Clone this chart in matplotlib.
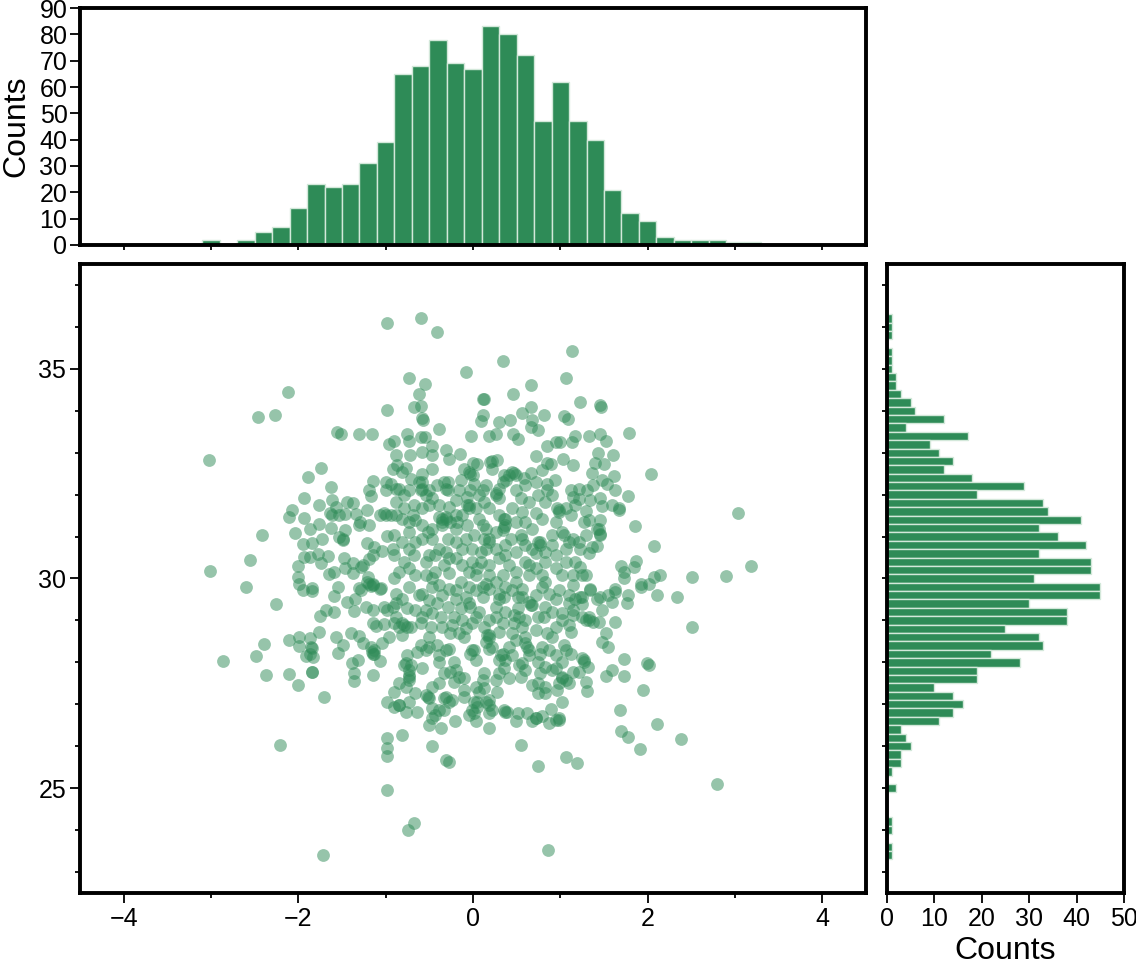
import matplotlib
matplotlib.use("Agg")
import matplotlib.pyplot as plt
from matplotlib.ticker import MultipleLocator, NullFormatter

plt.rcParams['font.family'] = ['Liberation Sans', 'DejaVu Sans']

GREEN = '#2E8B57'

# histogram of x (bins 0.2 wide, centred)
top_centers = [-3.0, -2.8, -2.6, -2.4, -2.2, -2.0, -1.8, -1.6, -1.4, -1.2, -1.0,
               -0.8, -0.6, -0.4, -0.2, 0.0, 0.2, 0.4, 0.6, 0.8, 1.0, 1.2, 1.4,
               1.6, 1.8, 2.0, 2.2, 2.4, 2.6, 2.8, 3.0, 3.2]
top_counts = [2, 0, 2, 5, 7, 14, 23, 22, 23, 31, 39, 65, 68, 78, 69, 67, 83, 80,
              72, 47, 62, 47, 40, 21, 12, 9, 3, 2, 2, 2, 1, 1]

# histogram of y
right_centers = [36.2, 36.0, 35.8, 35.6, 35.4, 35.2, 35.0, 34.8, 34.6, 34.4, 34.2,
                 34.0, 33.8, 33.6, 33.4, 33.2, 33.0, 32.8, 32.6, 32.4, 32.2, 32.0,
                 31.8, 31.6, 31.4, 31.2, 31.0, 30.8, 30.6, 30.4, 30.2, 30.0, 29.8,
                 29.6, 29.4, 29.2, 29.0, 28.8, 28.6, 28.4, 28.2, 28.0, 27.8, 27.6,
                 27.4, 27.2, 27.0, 26.8, 26.6, 26.4, 26.2, 26.0, 25.8, 25.6, 25.4,
                 25.2, 25.0, 24.8, 24.6, 24.4, 24.2, 24.0, 23.8, 23.6, 23.4]
right_counts = [1, 1, 1, 0, 1, 1, 1, 2, 2, 3, 5, 6, 12, 4, 17, 9, 11, 14, 12, 18,
                29, 19, 33, 34, 41, 32, 36, 42, 32, 43, 43, 31, 45, 45, 30, 38, 38,
                25, 32, 33, 22, 28, 19, 19, 10, 14, 16, 14, 11, 3, 4, 5, 3, 3, 1,
                0, 2, 0, 0, 0, 1, 1, 0, 1, 1]

# scatter points, read region by region
pts_upper_left = [
    (-0.99, 36.10), (-2.12, 34.44), (-2.46, 33.84), (-2.27, 33.90), (-0.98, 34.03),
    (-1.56, 33.49), (-1.51, 33.44), (-1.30, 33.44), (-1.16, 33.45), (-0.96, 33.21),
    (-3.02, 32.83), (-1.74, 32.64), (-1.89, 32.41), (-1.62, 32.18), (-1.14, 32.32),
    (-1.19, 32.10), (-1.00, 32.29), (-1.17, 31.97), (-1.00, 32.10), (-1.93, 31.93),
    (-1.76, 31.76), (-1.61, 31.87), (-1.57, 31.71), (-1.44, 31.83), (-1.37, 31.79),
    (-2.07, 31.63), (-2.11, 31.46), (-1.93, 31.45), (-1.64, 31.57), (-1.53, 31.51),
    (-1.47, 31.53), (-1.34, 31.53), (-1.21, 31.64), (-1.07, 31.52), (-1.00, 31.51),
    (-1.29, 31.35), (-1.19, 31.27), (-1.76, 31.31), (-1.87, 31.19), (-1.62, 31.21),
    (-1.46, 31.15), (-2.04, 31.09), (-0.98, 31.02), (-2.42, 31.03), (-1.53, 30.99),
    (-1.49, 30.91), (-1.73, 30.93), (-1.95, 30.82), (-1.84, 30.85), (-1.21, 30.85),
    (-1.13, 30.75), (-1.78, 30.59), (-1.66, 30.53), (-1.93, 30.52), (-1.74, 30.37),
    (-1.48, 30.49), (-1.37, 30.38), (-1.19, 30.46), (-1.04, 30.65), (-1.28, 30.28),
    (-2.55, 30.43), (-3.01, 30.18), (-2.00, 30.30), (-1.65, 30.10), (-1.59, 30.16),
    (-1.46, 30.25), (-1.37, 30.12), (-2.00, 30.04), (-1.20, 30.04), (-1.15, 29.88),
    (-2.60, 29.80), (-1.99, 29.88), (-1.84, 29.78), (-1.55, 29.80), (-1.30, 29.78),
    (-1.05, 29.78), (-1.02, 31.57), (-1.49, 30.95), (-1.15, 30.56), (-1.26, 30.32),
    (-1.21, 29.92), (-1.15, 29.84), (-1.87, 30.52), (-1.61, 31.51), (-1.30, 31.27),
]

pts_upper_mid = [
    (-0.60, 36.21), (-0.41, 35.87), (1.13, 35.43), (0.34, 35.18), (-0.08, 34.92),
    (-0.73, 34.79), (-0.55, 34.63), (-0.62, 34.41), (0.66, 34.62), (1.06, 34.78),
    (0.46, 34.41), (0.12, 34.27), (0.13, 34.29), (-0.67, 34.10), (-0.59, 34.11),
    (-0.58, 33.83), (-0.57, 33.78), (0.11, 33.90), (0.09, 33.75), (0.30, 33.73),
    (0.42, 33.79), (0.56, 33.94), (0.66, 34.10), (0.81, 33.89), (0.68, 33.77),
    (0.67, 33.61), (0.75, 33.53), (1.04, 33.87), (1.09, 33.81), (-0.39, 33.56),
    (-0.02, 33.40), (0.18, 33.40), (0.26, 33.45), (0.46, 33.45), (0.51, 33.33),
    (-0.75, 33.45), (-0.90, 33.27), (-0.73, 33.29), (-0.60, 33.37), (-0.55, 33.37),
    (-0.47, 33.17), (-0.88, 32.94), (-0.72, 32.94), (-0.58, 33.02), (-0.47, 32.94),
    (-0.31, 33.06), (-0.27, 32.86), (-0.15, 32.98), (0.85, 33.17), (0.95, 33.25),
    (1.00, 33.25), (1.13, 33.25), (1.17, 33.41), (0.72, 32.92), (1.03, 32.86),
    (1.14, 32.70), (0.85, 32.75), (0.89, 32.73), (0.79, 32.58), (0.66, 32.52),
    (0.58, 32.40), (0.47, 32.52), (0.41, 32.46), (0.38, 32.34), (0.34, 32.30),
    (0.27, 32.82), (0.20, 32.78), (0.22, 32.80), (0.00, 32.76), (0.05, 32.73),
    (0.22, 32.62), (-0.03, 32.50), (-0.10, 32.60), (0.01, 32.26), (-0.03, 32.10),
    (-0.14, 32.34), (-0.16, 32.10), (-0.29, 32.30), (-0.31, 32.14), (-0.41, 32.22),
    (-0.47, 32.62), (-0.58, 32.50), (-0.62, 32.30), (-0.71, 32.38), (-0.77, 32.64),
    (-0.81, 32.54), (-0.87, 32.70), (-0.92, 32.62), (-0.85, 32.14), (-0.73, 32.10),
    (-0.58, 32.14), (-0.50, 32.10), (-0.94, 32.26), (0.11, 32.10), (0.26, 32.03),
    (0.30, 31.91), (0.49, 32.10), (0.55, 31.91), (0.64, 31.83), (0.74, 31.99),
    (0.85, 32.26), (0.94, 32.34), (0.85, 32.10), (0.98, 31.63), (1.12, 32.10),
    (1.15, 31.94), (1.17, 31.75), (1.06, 31.67), (1.12, 31.51), (0.95, 31.35),
    (0.79, 31.43), (0.72, 31.55), (0.60, 31.35), (0.45, 31.67), (0.37, 31.43),
    (0.30, 31.51), (0.18, 31.67), (0.13, 31.83), (0.03, 31.67), (-0.05, 31.75),
    (-0.07, 31.94), (-0.20, 31.87), (-0.28, 31.71), (-0.39, 31.47), (-0.31, 31.43),
    (-0.50, 31.75), (-0.58, 31.67), (-0.67, 31.75), (-0.79, 31.67), (-0.88, 31.83),
    (-0.94, 31.51), (-0.81, 31.43), (-0.66, 31.39), (-0.90, 31.03), (-0.73, 31.11),
    (-0.58, 30.95), (-0.47, 31.19), (-0.35, 31.35), (-0.29, 30.95), (-0.20, 31.19),
    (-0.12, 31.51), (-0.07, 31.27), (0.01, 31.03), (0.11, 31.27), (0.18, 30.95),
    (0.26, 31.11), (0.35, 31.23), (0.43, 30.95), (0.55, 31.03), (0.68, 31.19),
    (0.77, 30.87), (0.91, 31.03), (1.02, 31.11), (1.15, 30.95), (1.06, 30.71),
    (0.95, 30.56), (0.83, 30.40), (0.72, 30.60), (0.60, 30.40), (0.49, 30.64),
    (0.37, 30.79), (0.30, 30.48), (0.18, 30.32), (0.09, 30.64), (-0.01, 30.40),
    (-0.12, 30.71), (-0.20, 30.48), (-0.33, 30.32), (-0.43, 30.56), (-0.54, 30.40),
    (-0.67, 30.56), (-0.79, 30.40), (-0.90, 30.56), (-0.85, 30.16), (-0.66, 30.08),
    (-0.47, 30.00), (-0.27, 30.12), (-0.14, 29.92), (0.03, 30.08), (0.15, 29.88),
    (0.34, 30.08), (0.49, 29.92), (0.64, 30.08), (0.83, 29.92), (1.02, 30.08),
    (1.15, 29.84), (-0.39, 29.84),
]

# extra points in the crowded middle, where marks overlap
pts_core_upper = [
    (-0.58, 32.30), (-0.60, 32.10), (-0.54, 31.98), (-0.33, 32.30), (-0.29, 32.10),
    (-0.05, 32.54), (0.00, 32.46), (0.35, 32.46), (0.45, 32.54), (0.49, 32.46),
    (0.30, 32.14), (0.26, 31.98), (-0.35, 31.43), (-0.31, 31.47), (-0.26, 31.35),
    (-0.35, 31.27), (-0.07, 31.75), (-0.05, 31.67), (0.35, 31.43), (0.37, 31.27),
    (0.34, 31.15), (0.13, 30.95), (0.18, 30.87), (0.15, 30.71), (0.96, 31.67),
    (0.98, 31.59), (0.75, 30.87), (0.77, 30.79), (1.04, 31.03), (1.10, 30.87),
    (0.60, 30.79), (0.68, 30.71), (0.56, 30.95), (-0.73, 31.35), (-0.69, 31.51),
    (-0.88, 31.51), (-0.92, 30.71), (-0.81, 30.87), (-0.47, 30.95), (-0.39, 30.71),
    (-0.50, 30.56), (-0.20, 30.87), (-0.08, 30.95), (-0.01, 30.71), (-0.12, 30.32),
    (-0.05, 30.16), (-0.43, 30.16), (-0.54, 30.08), (-0.73, 30.24), (-0.90, 30.00),
    (0.18, 30.08), (0.26, 29.92), (0.41, 30.32), (0.49, 30.16), (0.72, 30.24),
    (0.79, 30.08), (0.95, 30.24), (1.06, 30.40), (1.14, 30.08), (1.17, 30.40),
    (-0.88, 32.14), (-0.79, 31.98), (-0.47, 31.91), (-0.39, 31.75), (0.07, 31.99),
    (0.15, 32.22), (0.60, 32.22), (0.72, 32.30), (0.83, 31.83), (0.91, 31.99),
    (0.56, 31.59), (0.49, 31.35), (0.07, 31.43), (0.15, 31.19), (-0.20, 31.51),
    (-0.18, 31.35), (-0.58, 31.27), (-0.52, 31.11), (-0.66, 30.87), (-0.73, 30.71),
    (0.37, 30.56), (0.26, 30.71), (0.83, 30.64), (0.91, 30.79), (0.64, 30.32),
    (-0.27, 30.48), (-0.31, 30.64), (0.09, 30.40), (0.05, 30.24), (1.44, 31.19),
    (1.46, 31.07), (1.67, 31.67),
]

pts_upper_right = [
    (1.23, 34.21), (1.46, 34.13), (1.47, 34.09), (1.33, 33.41), (1.46, 33.45),
    (1.52, 33.28), (1.79, 33.46), (1.43, 33.00), (1.60, 32.94), (1.40, 32.76),
    (1.50, 32.74), (1.36, 32.52), (2.04, 32.49), (1.62, 32.44), (1.48, 32.34),
    (1.38, 32.22), (1.54, 32.26), (1.21, 32.14), (1.31, 32.10), (1.63, 32.10),
    (1.77, 31.96), (1.21, 31.90), (1.34, 31.87), (1.46, 31.91), (1.48, 31.72),
    (1.59, 31.75), (1.67, 31.63), (1.29, 31.61), (3.04, 31.55), (1.45, 31.39),
    (1.33, 31.39), (1.27, 31.35), (1.85, 31.25), (1.42, 31.19), (1.46, 31.03),
    (1.29, 31.03), (1.21, 30.87), (1.36, 30.75), (1.42, 30.78), (2.07, 30.77),
    (1.33, 30.60), (1.23, 30.71), (1.23, 30.28), (1.25, 30.08), (1.29, 30.08),
    (1.70, 30.30), (1.73, 30.16), (1.87, 30.41), (1.84, 30.28), (1.73, 30.00),
    (2.07, 30.04), (2.14, 30.08), (2.51, 30.04), (2.90, 30.06), (3.18, 30.29),
    (1.92, 29.86), (2.01, 29.88), (1.34, 29.76), (1.63, 29.76),
]

pts_lower_left = [
    (-2.26, 29.40), (-1.95, 29.72), (-1.84, 29.71), (-1.59, 29.58), (-1.44, 29.44),
    (-1.35, 29.52), (-1.36, 29.23), (-1.68, 29.26), (-1.59, 29.21), (-1.75, 29.10),
    (-1.28, 29.72), (-1.17, 29.82), (-1.06, 29.74), (-1.23, 29.33), (-1.15, 29.25),
    (-1.02, 29.33), (-0.98, 29.25), (-1.15, 28.93), (-1.11, 28.87), (-1.02, 28.91),
    (-2.39, 28.43), (-2.48, 28.14), (-2.86, 28.04), (-2.11, 28.53), (-1.99, 28.61),
    (-1.99, 28.39), (-1.87, 28.59), (-1.76, 28.72), (-1.84, 28.35), (-1.87, 28.21),
    (-1.91, 28.14), (-1.83, 28.12), (-1.84, 27.76), (-1.84, 27.78), (-2.11, 27.72),
    (-2.37, 27.70), (-2.00, 27.46), (-1.57, 28.61), (-1.49, 28.41), (-1.54, 28.23),
    (-1.40, 28.71), (-1.31, 28.63), (-1.26, 28.47), (-1.17, 28.37), (-1.13, 28.21),
    (-1.16, 28.25), (-1.04, 28.47), (-1.06, 28.03), (-1.32, 28.06), (-1.38, 27.98),
    (-1.36, 27.75), (-1.36, 27.56), (-1.15, 27.70), (-1.71, 27.17), (-0.98, 27.06),
    (-2.21, 26.03), (-0.98, 26.19), (-0.98, 25.95), (-0.98, 25.77), (-0.98, 24.96),
    (-1.72, 23.41), (-1.19, 29.88), (-1.15, 28.21), (-1.13, 28.29), (-1.86, 28.37),
]

pts_lower_mid = [
    (-0.73, 29.80), (-0.47, 29.80), (-0.20, 29.72), (-0.05, 29.80), (0.18, 29.76),
    (0.37, 29.80), (0.56, 29.76), (0.79, 29.80), (0.98, 29.72), (-0.88, 29.64),
    (-0.62, 29.60), (-0.35, 29.60), (-0.08, 29.56), (0.11, 29.56), (0.30, 29.52),
    (0.51, 29.56), (0.72, 29.60), (1.10, 29.60), (1.17, 29.52), (-0.92, 29.33),
    (-0.75, 29.29), (-0.66, 29.25), (-0.54, 29.25), (-0.47, 29.17), (-0.29, 29.33),
    (-0.14, 29.29), (-0.03, 29.33), (0.07, 29.21), (0.26, 29.33), (0.37, 29.21),
    (0.51, 29.29), (0.67, 29.37), (0.81, 29.09), (0.91, 29.21), (1.02, 29.17),
    (1.15, 29.13), (-0.90, 28.93), (-0.79, 28.89), (-0.71, 28.85), (-0.81, 28.65),
    (-0.48, 28.85), (-0.35, 28.85), (-0.24, 28.89), (-0.16, 28.69), (-0.10, 28.61),
    (-0.01, 28.93), (0.16, 28.65), (0.18, 28.57), (0.30, 28.73), (0.45, 28.69),
    (0.56, 28.85), (0.60, 28.61), (0.72, 28.77), (0.85, 28.69), (0.91, 28.61),
    (1.12, 28.73), (1.10, 28.89), (-0.50, 28.61), (-0.60, 28.41), (-0.50, 28.37),
    (-0.41, 28.41), (-0.27, 28.33), (0.01, 28.29), (-0.03, 28.21), (0.18, 28.33),
    (0.32, 28.17), (0.30, 28.05), (0.45, 28.17), (0.62, 28.37), (0.64, 28.17),
    (0.74, 28.02), (0.79, 28.37), (1.04, 28.41), (0.95, 28.17), (1.02, 28.02),
    (-0.75, 28.17), (-0.79, 27.94), (-0.71, 27.94), (-0.58, 27.86), (-0.39, 28.02),
    (-0.22, 28.02), (-0.33, 27.75), (-0.26, 27.78), (-0.10, 27.62), (-0.22, 27.54),
    (-0.73, 27.70), (-0.73, 27.59), (0.13, 27.74), (0.35, 27.86), (0.53, 27.94),
    (0.55, 27.66), (0.41, 27.62), (0.77, 27.74), (0.95, 27.86), (1.02, 27.62),
    (1.10, 27.50), (1.15, 27.78), (-0.90, 27.30), (-0.66, 27.26), (-0.52, 27.18),
    (-0.73, 27.06), (-0.85, 26.98), (-0.33, 27.14), (-0.24, 27.10), (-0.10, 27.34),
    (-0.10, 27.18), (0.07, 27.30), (0.13, 27.38), (0.18, 27.10), (0.28, 27.30),
    (0.05, 27.06), (0.68, 27.46), (0.74, 27.26), (0.83, 27.26), (0.96, 27.34),
    (1.02, 27.06), (-0.64, 26.82), (-0.77, 26.82), (-0.47, 26.90), (-0.33, 26.86),
    (-0.47, 26.67), (-0.50, 26.51), (-0.37, 26.43), (-0.21, 26.61), (0.01, 26.79),
    (0.03, 26.59), (0.18, 26.79), (0.22, 26.86), (0.18, 26.43), (0.37, 26.82),
    (0.51, 26.79), (0.49, 26.59), (0.62, 26.79), (0.72, 26.67), (0.79, 26.71),
    (0.89, 26.88), (0.87, 26.55), (0.98, 26.63), (-0.81, 26.27), (-0.47, 26.01),
    (-0.31, 25.67), (-0.27, 25.63), (0.55, 26.03), (0.74, 25.52), (1.06, 25.74),
    (1.19, 25.60), (-0.67, 24.18), (-0.74, 23.99), (0.86, 23.52),
]

pts_core_lower = [
    (-0.81, 28.93), (-0.75, 28.85), (-0.85, 28.85), (-0.88, 29.09), (-0.96, 28.61),
    (-0.60, 28.93), (-0.58, 29.09), (-0.41, 29.41), (-0.37, 29.09), (-0.22, 29.09),
    (-0.26, 28.69), (-0.12, 29.01), (-0.08, 28.81), (-0.05, 29.41), (0.03, 29.09),
    (0.13, 28.85), (0.18, 29.01), (0.18, 28.65), (0.15, 28.49), (0.22, 28.37),
    (0.26, 29.09), (0.34, 28.93), (0.30, 29.64), (0.35, 29.56), (0.47, 28.93),
    (0.47, 29.13), (0.53, 29.09), (0.60, 29.01), (0.64, 29.44), (0.68, 29.37),
    (0.60, 28.45), (0.64, 28.29), (0.56, 27.98), (0.60, 27.82), (0.75, 29.09),
    (0.83, 29.33), (0.95, 28.85), (1.02, 29.01), (1.02, 27.66), (1.06, 27.58),
    (0.98, 27.50), (0.91, 27.82), (0.83, 27.90), (0.34, 28.21), (0.37, 28.05),
    (0.41, 28.37), (0.49, 28.53), (-0.01, 28.29), (0.03, 28.05), (-0.20, 27.82),
    (-0.16, 27.66), (-0.31, 28.29), (-0.39, 28.17), (-0.54, 28.29), (-0.64, 28.25),
    (-0.77, 27.98), (-0.73, 27.82), (-0.73, 27.66), (-0.54, 27.22), (-0.50, 27.14),
    (-0.31, 27.18), (-0.27, 27.06), (0.01, 27.06), (0.05, 26.94), (0.18, 26.98),
    (0.15, 27.06), (0.35, 26.86), (0.39, 26.82), (0.72, 26.67), (0.68, 26.59),
    (0.95, 26.63), (0.98, 26.67), (-0.90, 26.94), (-0.85, 26.98), (-0.01, 26.86),
    (-0.05, 26.75), (-0.39, 26.86), (-0.43, 26.75), (-0.88, 29.41), (-0.81, 29.52),
    (-0.58, 29.64), (-0.50, 29.48), (-0.27, 29.76), (-0.20, 29.52), (0.03, 29.72),
    (0.11, 29.80), (0.45, 29.72), (0.56, 29.56), (0.87, 29.64), (0.95, 29.52),
    (1.10, 29.41), (1.15, 29.25), (1.06, 28.29), (1.12, 28.21), (0.87, 28.29),
    (0.77, 28.21), (0.30, 27.74), (0.26, 27.58), (0.11, 27.58), (0.03, 27.42),
    (0.75, 27.50), (0.83, 27.42), (-0.39, 27.50), (-0.47, 27.42), (-0.85, 27.50),
    (-0.77, 27.42), (1.25, 29.56), (1.29, 29.01), (1.33, 29.09), (1.27, 28.06),
]

pts_lower_right = [
    (1.23, 29.56), (1.25, 29.40), (1.34, 29.72), (1.42, 29.52), (1.46, 29.56),
    (1.55, 29.60), (1.59, 29.44), (1.63, 29.68), (1.78, 29.60), (1.76, 29.41),
    (1.92, 29.80), (2.11, 29.60), (2.34, 29.56), (2.51, 28.85), (1.25, 29.09),
    (1.33, 29.01), (1.38, 28.97), (1.48, 29.25), (1.44, 28.97), (1.63, 28.97),
    (1.52, 28.69), (1.48, 28.49), (1.55, 28.37), (1.25, 28.10), (1.27, 28.02),
    (1.32, 27.90), (1.21, 27.78), (1.59, 27.82), (1.52, 27.68), (1.73, 28.08),
    (1.73, 27.68), (1.99, 27.98), (2.01, 27.94), (1.29, 27.52), (1.30, 27.32),
    (1.95, 27.34), (1.68, 26.87), (2.11, 26.53), (1.69, 26.36), (1.78, 26.21),
    (1.91, 25.94), (2.38, 26.17), (2.79, 25.10),
]

all_pts = (pts_upper_left + pts_upper_mid + pts_core_upper + pts_upper_right +
           pts_lower_left + pts_lower_mid + pts_core_lower + pts_lower_right)
scatter_x = [p[0] for p in all_pts]
scatter_y = [p[1] for p in all_pts]

fig = plt.figure(figsize=(11.36, 9.66), dpi=100)
ax = fig.add_axes([0.0704, 0.0756, 0.6919, 0.6511])
ax_top = fig.add_axes([0.0704, 0.7464, 0.6919, 0.2453])
ax_right = fig.add_axes([0.7808, 0.0756, 0.2086, 0.6511])

ax.scatter(scatter_x, scatter_y, s=85, color=GREEN, alpha=0.5, linewidths=0)
ax.set_xlim(-4.5, 4.5)
ax.set_ylim(22.5, 37.5)
ax.xaxis.set_major_locator(MultipleLocator(2))
ax.xaxis.set_minor_locator(MultipleLocator(1))
ax.yaxis.set_major_locator(MultipleLocator(5))
ax.yaxis.set_minor_locator(MultipleLocator(1))

ax_top.bar(top_centers, top_counts, width=0.2, color=GREEN,
           edgecolor='#d3e8da', linewidth=1.0)
ax_top.set_xlim(-4.5, 4.5)
ax_top.set_ylim(0, 90)
ax_top.xaxis.set_major_locator(MultipleLocator(1))
ax_top.xaxis.set_major_formatter(NullFormatter())
ax_top.yaxis.set_major_locator(MultipleLocator(10))
ax_top.set_ylabel('Counts', fontsize=23, labelpad=6)

ax_right.barh(right_centers, right_counts, height=0.2, color=GREEN,
              edgecolor='#d3e8da', linewidth=1.0)
ax_right.set_xlim(0, 50)
ax_right.set_ylim(22.5, 37.5)
ax_right.xaxis.set_major_locator(MultipleLocator(10))
ax_right.yaxis.set_major_locator(MultipleLocator(1))
ax_right.yaxis.set_major_formatter(NullFormatter())
ax_right.set_xlabel('Counts', fontsize=23, labelpad=4)

for a in (ax, ax_top, ax_right):
    for sp in a.spines.values():
        sp.set_linewidth(2.8)
    a.tick_params(which='major', direction='out', length=7, width=1.3,
                  labelsize=18, pad=3, top=False, right=False)
    a.tick_params(which='minor', direction='out', length=3.5, width=1.3,
                  top=False, right=False)
ax_top.tick_params(axis='x', which='major', length=3.5)
ax_right.tick_params(axis='y', which='major', length=3.5)
ax_top.tick_params(axis='y', pad=2)

fig.savefig('out.png', dpi=100)
